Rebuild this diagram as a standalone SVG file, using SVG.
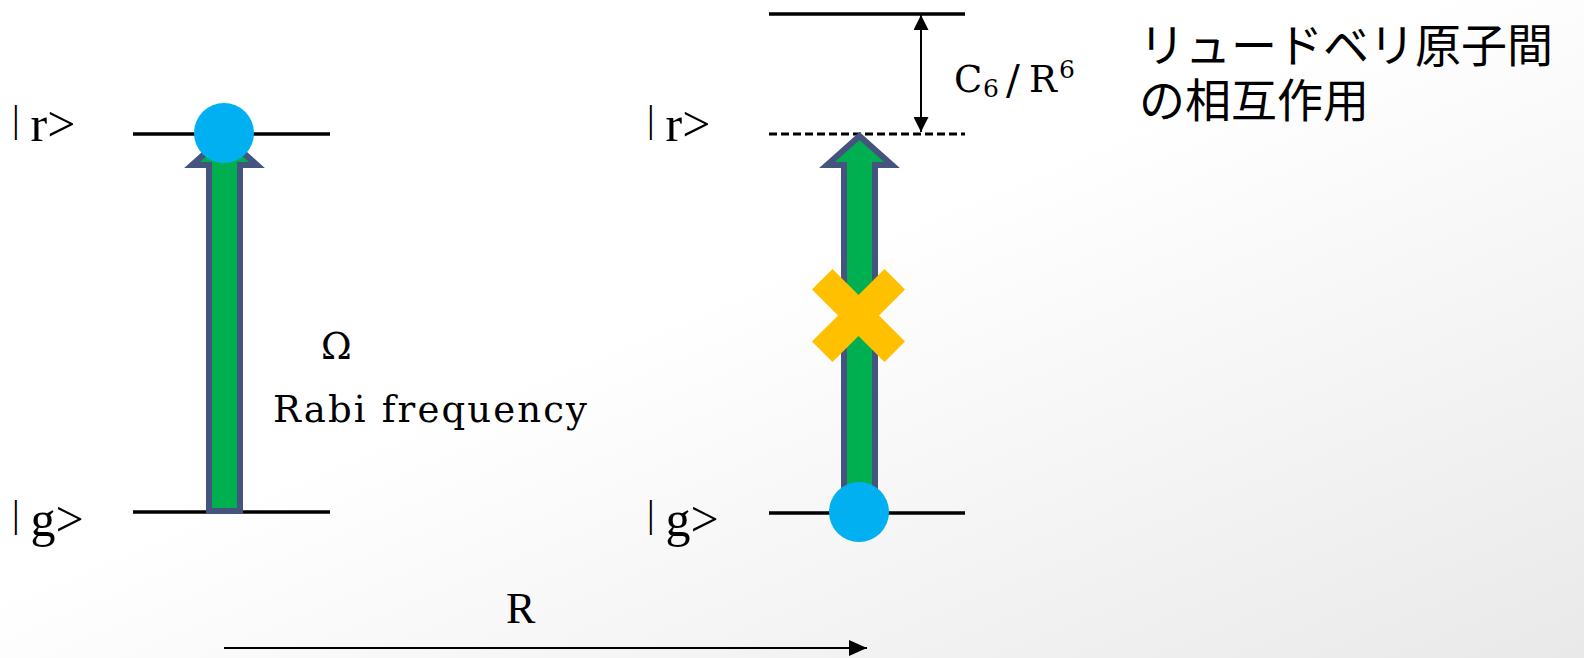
<svg xmlns="http://www.w3.org/2000/svg" width="1584" height="658" viewBox="0 0 1584 658">
<defs>
  <linearGradient id="bg" x1="0" y1="0" x2="1" y2="1">
    <stop offset="0" stop-color="#ffffff"/>
    <stop offset="0.45" stop-color="#ffffff"/>
    <stop offset="1" stop-color="#e9e9e9"/>
  </linearGradient>
  <marker id="ah" viewBox="0 0 10 10" refX="10" refY="5" markerWidth="15" markerHeight="15" markerUnits="userSpaceOnUse" orient="auto-start-reverse" preserveAspectRatio="none">
    <path d="M0,0 L10,5 L0,10 Z" fill="#000"/>
  </marker>
  <marker id="ahR" viewBox="0 0 10 10" refX="10" refY="5" markerWidth="18" markerHeight="16" markerUnits="userSpaceOnUse" orient="auto" preserveAspectRatio="none">
    <path d="M0,0 L10,5 L0,10 Z" fill="#000"/>
  </marker>
</defs>
<style>
  .lvl { stroke:#000; stroke-width:3.5; fill:none; }
  .dash { stroke:#000; stroke-width:3; stroke-dasharray:8 4; fill:none; }
  .barrow { fill:#00b050; stroke:#44547e; stroke-width:6; stroke-linejoin:miter; }
  .atom { fill:#00b0f0; }
  .cross { fill:#ffc000; }
  .conn { stroke:#000; stroke-width:2; fill:none; }
  .t { font-family:"Liberation Serif", "Times New Roman", serif; fill:#000; }
  .p { font-family:"DejaVu Serif", "Liberation Serif", serif; fill:#000; }
  .jp { font-family:"Noto Sans CJK JP", "Noto Sans", sans-serif; font-size:46px; fill:#000; }
</style>
<rect x="0" y="0" width="1584" height="658" fill="url(#bg)"/>

<g id="left-system">
  <line class="lvl" x1="133" y1="134" x2="330" y2="134"/>
  <line class="lvl" x1="133" y1="512" x2="330" y2="512"/>
</g>
<g id="left-arrow">
  <polygon class="barrow" points="224.5,136 257,165 240,165 240,511 209,511 209,165 192,165"/>
</g>
<g id="left-atom">
  <circle class="atom" cx="224" cy="133" r="30"/>
</g>

<g id="right-system">
  <line class="lvl" x1="769" y1="14" x2="965" y2="14"/>
  <line class="dash" x1="769" y1="134" x2="965" y2="134"/>
  <line class="lvl" x1="769" y1="513" x2="965" y2="513"/>
</g>
<g id="right-arrow">
  <polygon class="barrow" points="859.5,136 892,165 875,165 875,511 844,511 844,165 827,165"/>
</g>
<g id="blocked">
  <g transform="translate(858.5,315.5) rotate(45)" class="cross">
    <rect x="-51.3" y="-14.5" width="102.6" height="29"/>
    <rect x="-14.5" y="-51.3" width="29" height="102.6"/>
  </g>
</g>
<g id="right-atom">
  <circle class="atom" cx="859" cy="512" r="30"/>
</g>

<g id="connectors">
  <line class="conn" x1="921" y1="15" x2="921" y2="132" marker-start="url(#ah)" marker-end="url(#ah)"/>
  <line class="conn" x1="224" y1="648" x2="867" y2="648" marker-end="url(#ahR)"/>
</g>

<g id="labels">
  <text class="t"><tspan x="12" y="132" font-size="38">|</tspan><tspan x="18" y="141" font-size="50"> r&gt;</tspan></text>
  <text class="t"><tspan x="12" y="527" font-size="38">|</tspan><tspan x="18" y="536" font-size="50"> g&gt;</tspan></text>
  <text class="t"><tspan x="647" y="132" font-size="38">|</tspan><tspan x="653" y="141" font-size="50"> r&gt;</tspan></text>
  <text class="t"><tspan x="647" y="527" font-size="38">|</tspan><tspan x="653" y="536" font-size="50"> g&gt;</tspan></text>
  <text class="p" font-size="37"><tspan x="954" y="92">C</tspan><tspan x="983" y="97" font-size="25">6</tspan><tspan x="1006" y="94" font-size="41">/</tspan><tspan x="1029" y="92">R</tspan><tspan x="1059" y="78" font-size="25">6</tspan></text>
  <text class="p" x="321" y="359" font-size="37">Ω</text>
  <text class="p" x="273" y="422" font-size="37" textLength="314" lengthAdjust="spacing">Rabi frequency</text>
  <text class="t" x="506" y="623" font-size="44">R</text>
  <text class="jp"><tspan x="1139" y="62">リュードベリ原子間</tspan><tspan x="1139" y="117">の相互作用</tspan></text>
</g>
</svg>
